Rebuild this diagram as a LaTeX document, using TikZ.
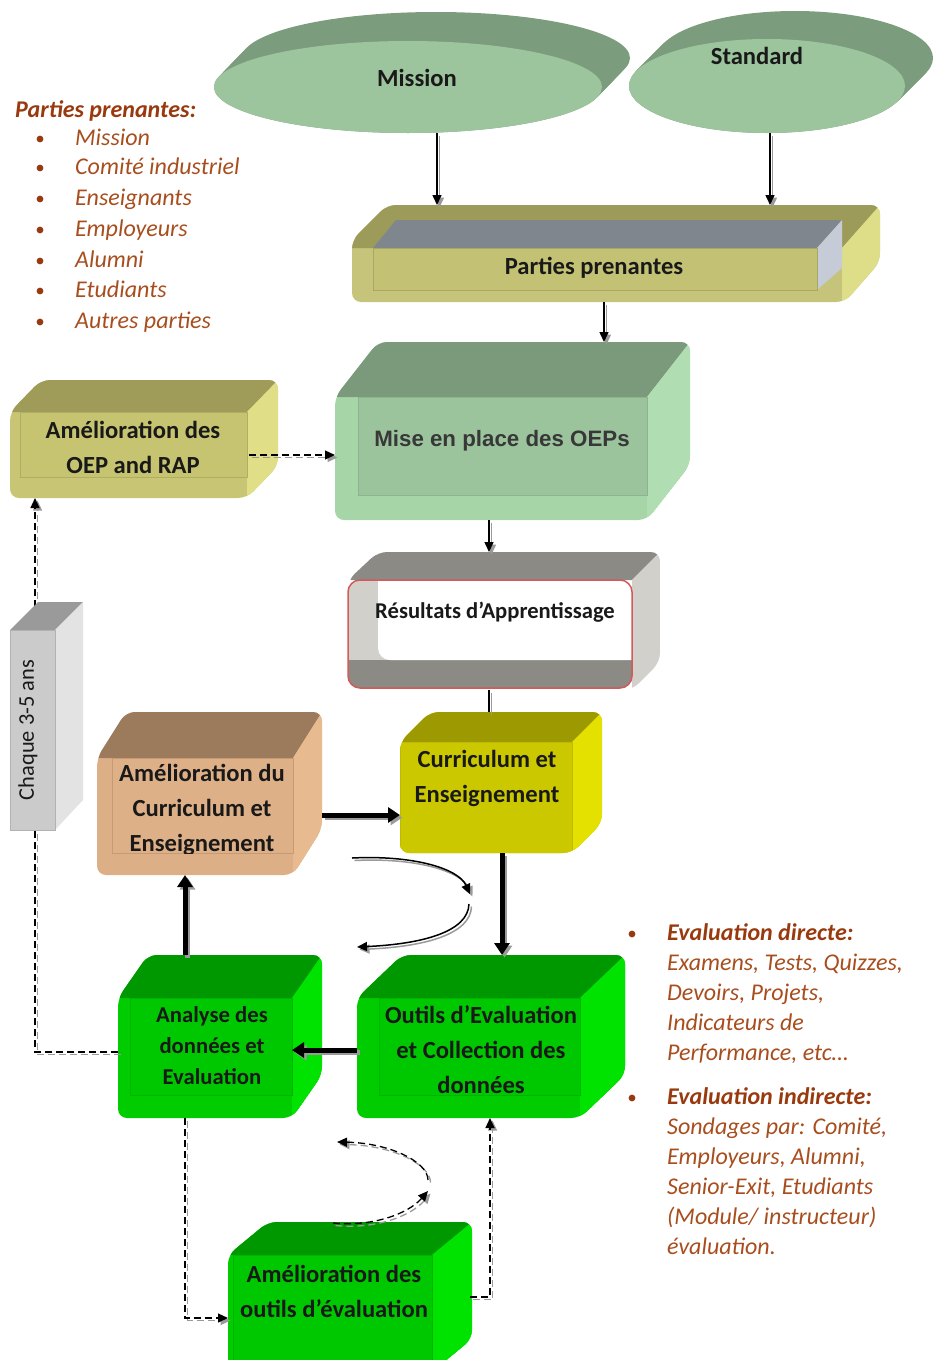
\documentclass[tikz,border=0pt]{standalone}
\usepackage{fontspec}
\setmainfont{Carlito}
\newfontfamily\arialfont{Liberation Sans}
\usetikzlibrary{arrows.meta,shapes.geometric}

% palette
\definecolor{ellfront}{HTML}{9CC49D}
\definecolor{ellback}{HTML}{7B9D7D}
\definecolor{parrim}{HTML}{C6C47A}
\definecolor{partop}{HTML}{9D9B5A}
\definecolor{parside}{HTML}{DEDD88}
\definecolor{pargray}{HTML}{80868E}
\definecolor{parinside}{HTML}{C5CCD8}
\definecolor{parfront}{HTML}{C3C274}
\definecolor{paredge}{HTML}{A9A862}
\definecolor{oeprim}{HTML}{C8C674}
\definecolor{oeptop}{HTML}{9E9C58}
\definecolor{oepside}{HTML}{E0DE86}
\definecolor{oepfront}{HTML}{C6C470}
\definecolor{oepedge}{HTML}{B0AE60}
\definecolor{miserim}{HTML}{A6D6A8}
\definecolor{misetop}{HTML}{7A9A7B}
\definecolor{miseside}{HTML}{B0DEB2}
\definecolor{misefront}{HTML}{9BC49D}
\definecolor{miseedge}{HTML}{8DB48F}
\definecolor{restop}{HTML}{8C8A84}
\definecolor{resside}{HTML}{D2D0CA}
\definecolor{resred}{HTML}{D25A5A}
\definecolor{currim}{HTML}{CCC800}
\definecolor{curtop}{HTML}{9C9A00}
\definecolor{curside}{HTML}{E4E000}
\definecolor{curfront}{HTML}{CCC800}
\definecolor{curedge}{HTML}{BDBA00}
\definecolor{tanrim}{HTML}{DDAF87}
\definecolor{tantop}{HTML}{9C7A5C}
\definecolor{tanside}{HTML}{E8BA90}
\definecolor{tanfront}{HTML}{DEB088}
\definecolor{tanedge}{HTML}{C89A74}
\definecolor{grnrim}{HTML}{00CC00}
\definecolor{grntop}{HTML}{009800}
\definecolor{grnside}{HTML}{00E200}
\definecolor{grnfront}{HTML}{00C800}
\definecolor{grnedge}{HTML}{00B400}
\definecolor{chqtop}{HTML}{9A9A9A}
\definecolor{chqside}{HTML}{E3E3E3}
\definecolor{chqfront}{HTML}{CBCBCB}
\definecolor{brownh}{HTML}{993A0E}
\definecolor{brownt}{HTML}{A84E1E}
\definecolor{shade}{HTML}{9A9A9A}

% bevelled block: x1, y1, x2, y2, depth x, depth y, left rim, bottom rim, colour prefix
\newcommand{\bevelbox}[9]{%
  \fill[#9rim,rounded corners=9pt] (#1,{#2+#6}) -- ({#1+#5},#2) -- (#3,#2) -- (#3,{#4-#6}) -- ({#3-#5},#4) -- (#1,#4) -- cycle;
  \begin{scope}
    \clip[rounded corners=9pt] (#1,{#2+#6}) -- ({#1+#5},#2) -- (#3,#2) -- (#3,{#4-#6}) -- ({#3-#5},#4) -- (#1,#4) -- cycle;
    \fill[#9top] (#1,{#2+#6}) -- ({#1+#5},#2) -- (#3,#2) -- ({#3-#5},{#2+#6}) -- cycle;
    \fill[#9side] ({#3-#5},{#2+#6}) -- (#3,#2) -- (#3,{#4-#6}) -- ({#3-#5},#4) -- cycle;
    \filldraw[fill=#9front,draw=#9edge,line width=0.8pt] ({#1+#7},{#2+#6}) rectangle ({#3-#5},{#4-#8});
  \end{scope}}

% connector with a grey offset copy underneath
\newcommand{\sdraw}[2]{%
  \begin{scope}[transform canvas={shift={(2.5pt,-2.5pt)}}]\draw[#1,draw=shade] #2;\end{scope}
  \draw[#1] #2;}

\begin{document}
\begin{tikzpicture}[x=1pt,y=-1pt,
  area/.style={rectangle,inner sep=0pt,outer sep=0pt,draw=none},
  boxtext/.style={align=center,font=\fontsize{24.6}{35}\selectfont\bfseries,text=black!90,inner sep=0pt},
  listtext/.style={anchor=base west,inner sep=0pt,text=brownt,font=\fontsize{24}{30}\selectfont\itshape},
  listhead/.style={anchor=base west,inner sep=0pt,text=brownh,font=\fontsize{24}{30}\selectfont\bfseries\itshape},
  thinarr/.style={draw=black,line width=1.5pt,-{Triangle[length=10pt,width=9pt]}},
  thinline/.style={draw=black,line width=1.5pt},
  thickarr/.style={draw=black,line width=5pt,-{Triangle[length=12pt,width=15pt]}},
  dasharr/.style={draw=black,line width=1.3pt,dash pattern=on 7pt off 4pt,-{Triangle[length=10pt,width=9pt]}}]
\useasboundingbox (0,0) rectangle (933,1360);
\clip (0,0) rectangle (933,1360);

% ---- the two discs ----
\foreach \t in {0,0.05,...,1.001} {
  \fill[ellback] ({408+28*\t},{87-29*\t}) ellipse [x radius=194, y radius=46];
  \fill[ellback] ({767+28*\t},{86-28*\t}) ellipse [x radius=138, y radius=47];
}
\node[ellipse,fill=ellfront,minimum width=388pt,minimum height=92pt,inner sep=0pt] (mission) at (408,87) {};
\node[ellipse,fill=ellfront,minimum width=276pt,minimum height=94pt,inner sep=0pt] (standard) at (767,86) {};
\node[boxtext] (missiont) at (417,78) {Mission};
\node[boxtext] (standardt) at (757,56) {Standard};

% ---- stakeholders block ----
\fill[parrim,rounded corners=9pt] (352,240) -- (387,205) -- (880,205) -- (880,262) -- (845,302) -- (352,302) -- cycle;
\begin{scope}
  \clip[rounded corners=9pt] (352,240) -- (387,205) -- (880,205) -- (880,262) -- (845,302) -- (352,302) -- cycle;
  \fill[partop] (352,240) -- (387,205) -- (880,205) -- (842,248) -- (352,248) -- cycle;
  \fill[parside] (842,248) -- (880,205) -- (880,262) -- (845,302) -- (842,302) -- cycle;
\end{scope}
\fill[pargray] (373,248) -- (396,220) -- (842,220) -- (817,248) -- cycle;
\fill[parinside] (817,248) -- (842,220) -- (842,268) -- (817,290) -- cycle;
\filldraw[fill=parfront,draw=paredge,line width=0.8pt] (373,248) rectangle (817,290);
\node[area,minimum width=528pt,minimum height=97pt] (parties) at (616,253.5) {};
\node[boxtext] (partiest) at (594,268) {Parties prenantes};

% ---- stakeholder list ----
\node[listhead] (lh) at (15,117) {Parties prenantes:};
\foreach \y/\s [count=\i] in {145/Mission,174/Comité industriel,205/Enseignants,236/Employeurs,267/Alumni,297/Etudiants,328/Autres parties} {
  \fill[brownh] (40,{\y-6}) circle (3.4pt);
  \node[listtext] (l\i) at (75,\y) {\s};
}

% ---- improvement of OEP / RAP ----
\bevelbox{10}{380}{278}{498}{31}{32}{10}{21}{oep}
\node[area,minimum width=268pt,minimum height=118pt] (oep) at (144,439) {};
\node[boxtext] (oept) at (133,447) {Amélioration des\\OEP and RAP};

% ---- setting up the OEPs ----
\bevelbox{335}{342}{690}{520}{43}{55}{23}{25}{mise}
\node[area,minimum width=355pt,minimum height=178pt] (mise) at (512.5,431) {};
\node[inner sep=0pt,text=black!78,font=\arialfont\fontsize{22.3}{26}\selectfont\bfseries] (miset) at (502,441) {Mise en place des OEPs};

% ---- learning outcomes ----
\begin{scope}
  \clip[rounded corners=9pt] (348,580) -- (378,552) -- (660,552) -- (660,662) -- (632,690) -- (348,690) -- cycle;
  \fill[restop] (348,580) -- (378,552) -- (660,552) -- (632,580) -- cycle;
  \fill[resside] (632,580) -- (660,552) -- (660,662) -- (632,690) -- cycle;
\end{scope}
\begin{scope}
  \clip[rounded corners=12pt] (348,580) rectangle (632,688);
  \fill[resside] (348,580) rectangle (632,688);
  \fill[restop] (348,660) rectangle (632,688);
  \fill[white,rounded corners=12pt] (378,568) rectangle (648,660);
\end{scope}
\draw[resred,line width=1.5pt,rounded corners=12pt] (348,580) rectangle (632,688);
\node[area,minimum width=312pt,minimum height=138pt] (res) at (504,621) {};
\node[boxtext,font=\fontsize{22.6}{26}\selectfont\bfseries] (rest) at (495,612) {Résultats d’Apprentissage};

% ---- curriculum ----
\bevelbox{400}{712}{602}{853}{30}{30}{0}{0}{cur}
\node[area,minimum width=202pt,minimum height=141pt] (cur) at (501,782.5) {};
\node[boxtext] (curt) at (487,778) {Curriculum et\\Enseignement};

% ---- curriculum improvement ----
\bevelbox{97}{712}{322}{875}{29}{46}{15}{22}{tan}
\node[area,minimum width=225pt,minimum height=163pt] (amcur) at (209.5,793.5) {};
\begin{scope}
  \clip (112,758) rectangle (293,853);
  \node[boxtext] (amcurt) at (202,810) {Amélioration du\\Curriculum et\\Enseignement};
\end{scope}

% ---- analysis ----
\bevelbox{118}{955}{322}{1118}{30}{43}{12}{23}{grn}
\node[area,minimum width=204pt,minimum height=163pt] (ana) at (220,1036.5) {};
\node[boxtext,font=\fontsize{22.7}{31}\selectfont\bfseries] (anat) at (212,1046) {Analyse des\\données et\\Evaluation};

% ---- assessment tools ----
\bevelbox{357}{955}{625}{1118}{45}{43}{22}{23}{grn}
\node[area,minimum width=268pt,minimum height=163pt] (out) at (491,1036.5) {};
\node[boxtext] (outt) at (481,1050) {Outils d’Evaluation\\et Collection des\\données};

% ---- tool improvement ----
\bevelbox{228}{1222}{472}{1372}{40}{33}{5}{0}{grn}
\node[area,minimum width=244pt,minimum height=150pt] (amout) at (350,1297) {};
\node[boxtext] (amoutt) at (334,1291) {Amélioration des\\outils d’évaluation};

% ---- evaluation list ----
\fill[brownh] (632,{940-6}) circle (3.4pt);
\node[listhead] (r0) at (667,940) {Evaluation directe:};
\foreach \y/\s [count=\i] in {970/{Examens, Tests, Quizzes,},1000/{Devoirs, Projets,},1030/{Indicateurs de},1060/{Performance, etc…}} {
  \node[listtext] (r\i) at (667,\y) {\s};
}
\fill[brownh] (632,{1104-6}) circle (3.4pt);
\node[listhead] (s0) at (667,1104) {Evaluation indirecte:};
\foreach \y/\s [count=\i] in {1134/{Sondages par: Comité,},1164/{Employeurs, Alumni,},1194/{Senior-Exit, Etudiants},1224/{(Module/ instructeur)},1254/{évaluation.}} {
  \node[listtext] (s\i) at (667,\y) {\s};
}

% ---- long review loop ----
\coordinate (bendA) at (35,1052);
\sdraw{dasharr}{(ana.west |- bendA) -- (bendA) -- (bendA |- oep.south)}

% ---- every 3-5 years ----
\fill[chqtop] (10,630) -- (38,602) -- (83,602) -- (55,630) -- cycle;
\fill[chqside] (55,630) -- (83,602) -- (83,800) -- (55,830) -- cycle;
\filldraw[fill=chqfront,draw=black!30,line width=0.8pt] (10,630) rectangle (55,830);
\node[area,minimum width=73pt,minimum height=228pt] (chq) at (46.5,716) {};
\node[rotate=90,inner sep=0pt,text=black!90,font=\fontsize{22.4}{26}\selectfont] (chqt) at (28,730) {Chaque 3-5 ans};

% ---- connectors ----
\sdraw{thinarr}{([xshift=29pt]mission.south) -- ([xshift=29pt]mission.south |- parties.north)}
\sdraw{thinarr}{([xshift=3pt]standard.south) -- ([xshift=3pt]standard.south |- parties.north)}
\sdraw{thinarr}{([xshift=-12pt]parties.south) -- ([xshift=-12pt]parties.south |- mise.north)}
\sdraw{thinarr}{([xshift=-23.5pt]mise.south) -- ([xshift=-23.5pt]mise.south |- res.north)}
\sdraw{thinline}{([xshift=-15pt]res.south) -- ([xshift=-15pt]res.south |- cur.north)}
\sdraw{dasharr,shorten <=105pt}{([yshift=-16pt]oep.center) -- ([yshift=-16pt]oep.center -| mise.west)}
\sdraw{thickarr}{([yshift=-21.5pt]amcur.east) -- ([yshift=-21.5pt]amcur.east -| cur.west)}
\sdraw{thickarr}{([xshift=1pt]cur.south) -- ([xshift=1pt]cur.south |- out.north)}
\sdraw{thickarr}{([xshift=-35pt]ana.north) -- ([xshift=-35pt]ana.north |- amcur.south)}
\sdraw{thickarr,shorten >=72pt}{([yshift=-13.5pt]out.west) -- ([yshift=-13.5pt]out.west -| ana.center)}

\coordinate (bendB) at (185,1318);
\sdraw{dasharr}{(bendB |- ana.south) -- (bendB) -- (bendB -| amout.west)}
\coordinate (bendC) at (490,1297);
\sdraw{dasharr}{([xshift=-2pt]bendC -| amout.east) -- (bendC) -- (bendC |- out.south)}

% ---- cycle marks ----
\coordinate (ca) at (352,858);
\coordinate (cb) at (470,894);
\coordinate (cc) at (469,904);
\coordinate (cd) at (357,947);
\sdraw{thinarr}{(ca) .. controls (412,855) and (458,868) .. (cb)}
\sdraw{thinarr}{(cc) .. controls (468,932) and (422,944) .. (cd)}
\coordinate (da) at (333,1223);
\coordinate (db) at (428,1191);
\coordinate (dc) at (428,1180);
\coordinate (dd) at (337,1142);
\sdraw{dasharr}{(da) .. controls (372,1227) and (408,1214) .. (db)}
\sdraw{dasharr}{(dc) .. controls (428,1162) and (390,1143) .. (dd)}
\end{tikzpicture}
\end{document}
